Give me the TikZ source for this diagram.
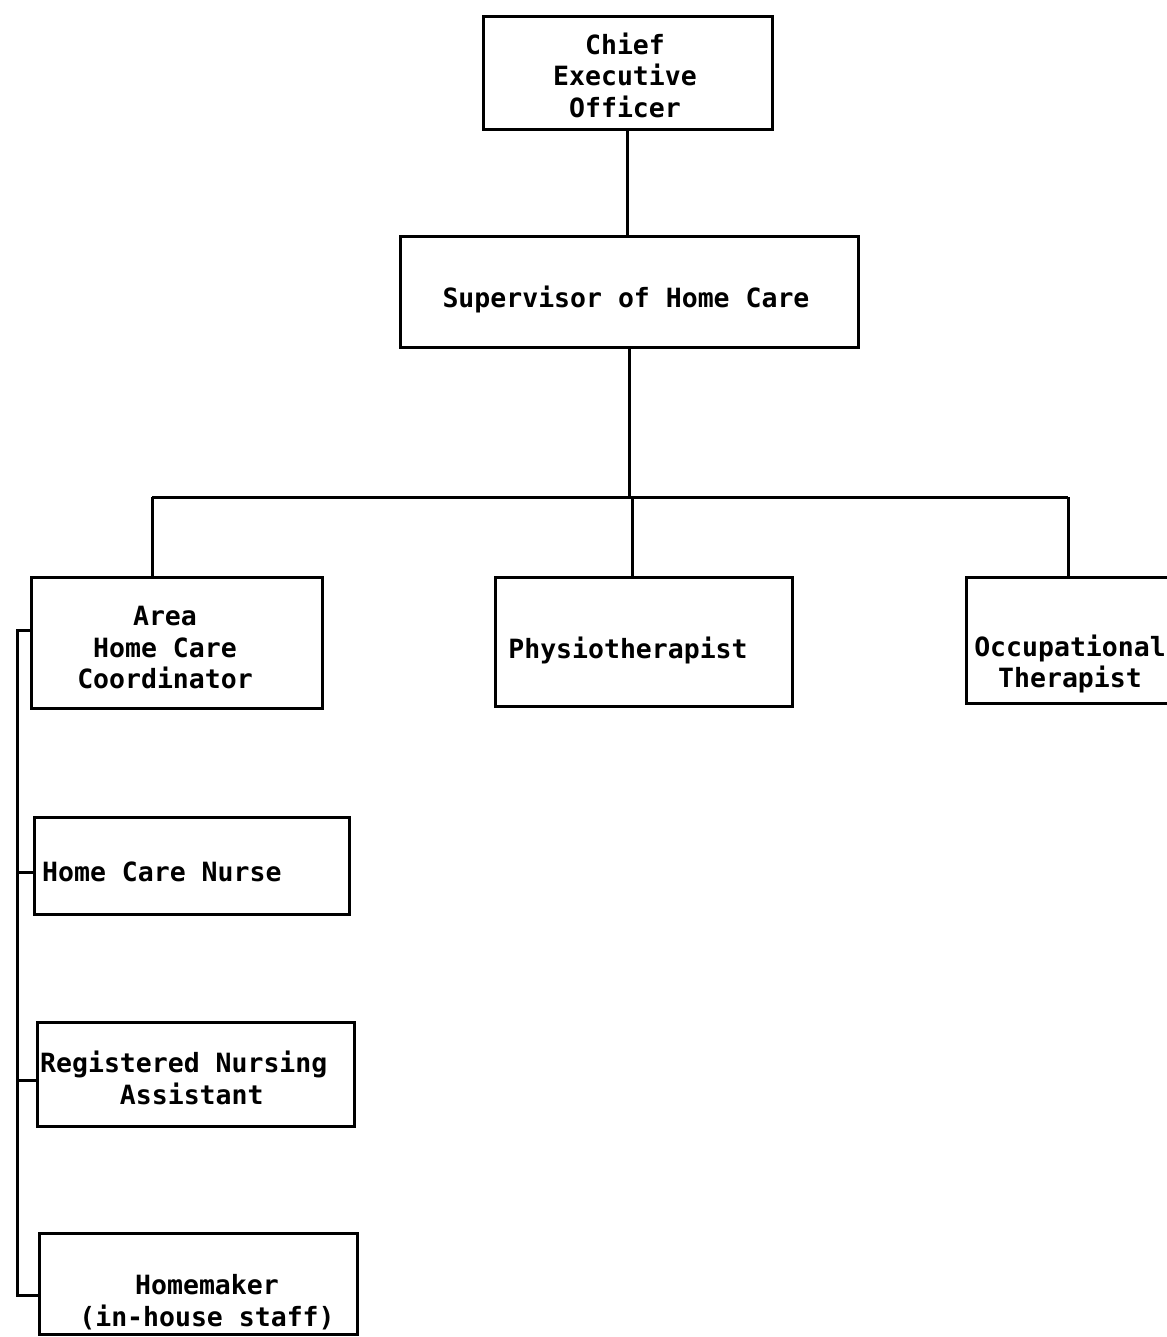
\documentclass[tikz,border=0pt]{standalone}
\usepackage{fontspec}
\setmonofont{DejaVu Sans Mono}
\begin{document}
\begin{tikzpicture}[x=1pt,y=-1pt,
  box/.style={draw,line width=3pt,inner sep=0pt},
  lbl/.style={font=\ttfamily\bfseries\fontsize{26.5}{31.5}\selectfont,inner sep=0pt,align=center},
  conn/.style={line width=3pt}]
\useasboundingbox (0,0) rectangle (1166,1337);
% boxes
\node[box,minimum width=289pt,minimum height=113pt] (ceo) at (627.5,73.5) {};
\node[box,minimum width=458pt,minimum height=110pt] (sup) at (629,292) {};
\node[box,minimum width=291pt,minimum height=131pt] (area) at (176.5,642.5) {};
\node[box,minimum width=297pt,minimum height=129pt] (phys) at (643.5,641.5) {};
\node[box,minimum width=224pt,minimum height=126pt] (ot) at (1078,640) {};
\node[box,minimum width=315pt,minimum height=97pt] (nurse) at (191.5,865.5) {};
\node[box,minimum width=317pt,minimum height=104pt] (rna) at (195.5,1074) {};
\node[box,minimum width=318pt,minimum height=101pt] (home) at (198,1283.5) {};
% texts
\node[lbl] (ceoT) at (625,75) {Chief\\Executive\\Officer};
\node[lbl] (supT) at (626,299) {Supervisor of Home Care};
\node[lbl] (areaT) at (165,648) {Area\\Home Care\\Coordinator};
\node[lbl] (physT) at (628,650) {Physiotherapist};
\node[lbl] (otT) at (1070,664) {Occupational\\Therapist};
\node[lbl,anchor=west] (nurseT) at (42,872) {Home Care Nurse};
\node[lbl,anchor=west,align=left] (rnaT) at (40,1078) {Registered Nursing\\\phantom{xxxxx}Assistant};
\node[lbl] (homeT) at (207,1302) {Homemaker\\(in-house staff)};
% connectors
\coordinate (busL) at (152,497);
\coordinate (busM) at (632,497);
\coordinate (busR) at (1068,497);
\draw[conn] (ceo.south) -- (ceo.south |- sup.north);
\draw[conn] (sup.south) -- (sup.south |- busM);
\draw[conn] (busL) -- (busR);
\draw[conn] (busL) -- (busL |- area.north);
\draw[conn] (busM) -- (busM |- phys.north);
\draw[conn] (busR) -- (busR |- ot.north);
\coordinate (lbA) at (17,630);
\coordinate (lbB) at (17,872);
\coordinate (lbC) at (17,1080);
\coordinate (lbD) at (17,1295);
\draw[conn] (lbA -| area.west) -- (lbA) -- (lbD) -- (lbD -| home.west);
\draw[conn] (lbB) -- (lbB -| nurse.west);
\draw[conn] (lbC) -- (lbC -| rna.west);
\end{tikzpicture}
\end{document}
